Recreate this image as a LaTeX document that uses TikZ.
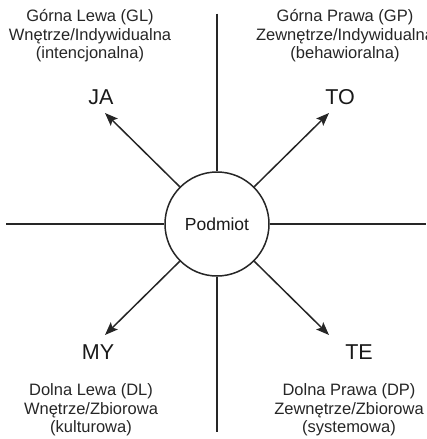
\documentclass[tikz,border=0pt]{standalone}
\usepackage{fontspec}
\setmainfont{Liberation Sans}
\usetikzlibrary{arrows.meta}
\begin{document}
\begin{tikzpicture}[x=1pt,y=-1pt,
  ax/.style={line width=1.5pt, draw=black!85},
  arr/.style={ax, -{Stealth[length=13pt,width=10pt,inset=2.5pt]}},
  quad/.style={align=center, font=\fontsize{16.5}{18.5}\selectfont, text=black!85, inner sep=0pt},
  big/.style={font=\fontsize{21.5}{24}\selectfont, text=black!90, inner sep=0pt},
  podm/.style={circle, ax, minimum size=104pt, inner sep=0pt, font=\fontsize{17.5}{20}\selectfont, text=black!90}
]
\useasboundingbox (0,0) rectangle (426,439);
\node[podm] (p) at (217,224) {Podmiot};
\coordinate (vt) at (217,13.5);
\coordinate (vb) at (217,432);
\coordinate (hl) at (6,224);
\coordinate (hr) at (426,224);
\draw[ax] (vt) -- (p.north);
\draw[ax] (p.south) -- (vb);
\draw[ax] (hl) -- (p.west);
\draw[ax] (p.east) -- (hr);
\coordinate (tnw) at (105,113);
\coordinate (tne) at (329,113);
\coordinate (tsw) at (105,335);
\coordinate (tse) at (329,335);
\draw[arr] (p.135) -- (tnw);
\draw[arr] (p.45) -- (tne);
\draw[arr] (p.225) -- (tsw);
\draw[arr] (p.315) -- (tse);
\node[big] (ja) at (101,97) {JA};
\node[big] (to) at (340,97) {TO};
\node[big] (my) at (98,352) {MY};
\node[big] (te) at (359,352) {TE};
\node[quad] (gl) at (90,36) {Górna Lewa (GL)\\Wnętrze/Indywidualna\\(intencjonalna)};
\node[quad] (gp) at (345,36) {Górna Prawa (GP)\\Zewnętrze/Indywidualna\\(behawioralna)};
\node[quad] (dl) at (91,410) {Dolna Lewa (DL)\\Wnętrze/Zbiorowa\\(kulturowa)};
\node[quad] (dp) at (349,410) {Dolna Prawa (DP)\\Zewnętrze/Zbiorowa\\(systemowa)};
\end{tikzpicture}
\end{document}
